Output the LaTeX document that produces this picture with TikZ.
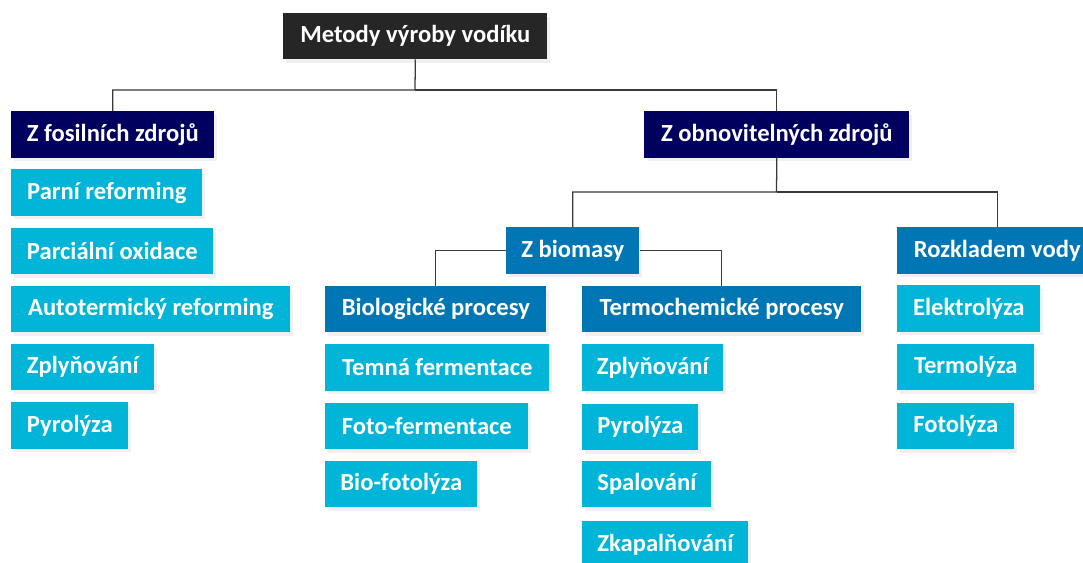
\documentclass[tikz,border=0pt]{standalone}
\usepackage{fontspec}
\setmainfont{Carlito}
\usepackage{tikz}
\usetikzlibrary{shadows}

\definecolor{topgray}{HTML}{262626}
\definecolor{navy}{HTML}{01005E}
\definecolor{midblue}{HTML}{0176B4}
\definecolor{lightblue}{HTML}{00B5D8}
\definecolor{linegray}{HTML}{3A3A3A}

\tikzset{
  box/.style={anchor=west, minimum height=1.15cm, inner sep=0pt,
    text=white, font=\fontsize{17.5}{20}\selectfont\bfseries,
    drop shadow={opacity=0.12, shadow xshift=0.07cm, shadow yshift=-0.09cm}},
  headbox/.style={box, fill=topgray},
  srcbox/.style={box, fill=navy},
  groupbox/.style={box, fill=midblue},
  leafbox/.style={box, fill=lightblue},
  link/.style={draw=linegray, line width=0.9pt}
}

\begin{document}
\begin{tikzpicture}[x=0.025cm, y=-0.025cm]
    \useasboundingbox (0, 0) rectangle (1083, 563);

    % root
    \node[headbox, minimum width=6.6cm] (top) at (283, 36) {Metody výroby vodíku};

    % sources
    \node[srcbox, minimum width=5.075cm] (fossil) at (11, 134.5) {Z fosilních zdrojů};
    \node[srcbox, minimum width=6.625cm] (renew) at (644, 134.5) {Z obnovitelných zdrojů};

    % fossil methods
    \node[leafbox, minimum width=4.775cm] (f1) at (11, 192.5) {Parní reforming};
    \node[leafbox, minimum width=5.05cm] (f2) at (11, 251) {Parciální oxidace};
    \node[leafbox, minimum width=6.975cm] (f3) at (11, 309) {Autotermický reforming};
    \node[leafbox, minimum width=3.575cm] (f4) at (11, 367) {Zplyňování};
    \node[leafbox, minimum width=2.925cm] (f5) at (11, 425.5) {Pyrolýza};

    % renewable groups
    \node[groupbox, minimum width=3.325cm] (biomass) at (506, 250.5) {Z biomasy};
    \node[groupbox, minimum width=5.0cm] (water) at (897, 250.5) {Rozkladem vody};
    \node[groupbox, minimum width=5.525cm] (bio) at (325, 309) {Biologické procesy};
    \node[groupbox, minimum width=6.975cm] (thermo) at (582, 309) {Termochemické procesy};

    % biological
    \node[leafbox, minimum width=5.6cm] (b1) at (325, 367.5) {Temná fermentace};
    \node[leafbox, minimum width=5.075cm] (b2) at (325, 426) {Foto-fermentace};
    \node[leafbox, minimum width=3.8cm] (b3) at (325, 484) {Bio-fotolýza};

    % thermochemical
    \node[leafbox, minimum width=3.525cm] (t1) at (582, 367.5) {Zplyňování};
    \node[leafbox, minimum width=2.9cm] (t2) at (582, 427) {Pyrolýza};
    \node[leafbox, minimum width=3.225cm] (t3) at (582, 484) {Spalování};
    \node[leafbox, minimum width=4.15cm] (t4) at (582, 544.5) {Zkapalňování};

    % water splitting
    \node[leafbox, minimum width=3.575cm] (w1) at (897, 308.5) {Elektrolýza};
    \node[leafbox, minimum width=3.425cm] (w2) at (897, 367) {Termolýza};
    \node[leafbox, minimum width=2.925cm] (w3) at (897, 426) {Fotolýza};

    % tree lines
    \coordinate (j1) at (415, 90);
    \coordinate (j2) at (776.5, 192);
    \draw[link] (top.south) -- (j1) -| (fossil.north);
    \draw[link] (j1) -| (renew.north);
    \draw[link] (renew.south) -- (j2) -| (biomass.north);
    \draw[link] (j2) -| (water.north);
    \draw[link] (biomass.west) -| (bio.north);
    \draw[link] (biomass.east) -| (thermo.north);
\end{tikzpicture}
\end{document}
